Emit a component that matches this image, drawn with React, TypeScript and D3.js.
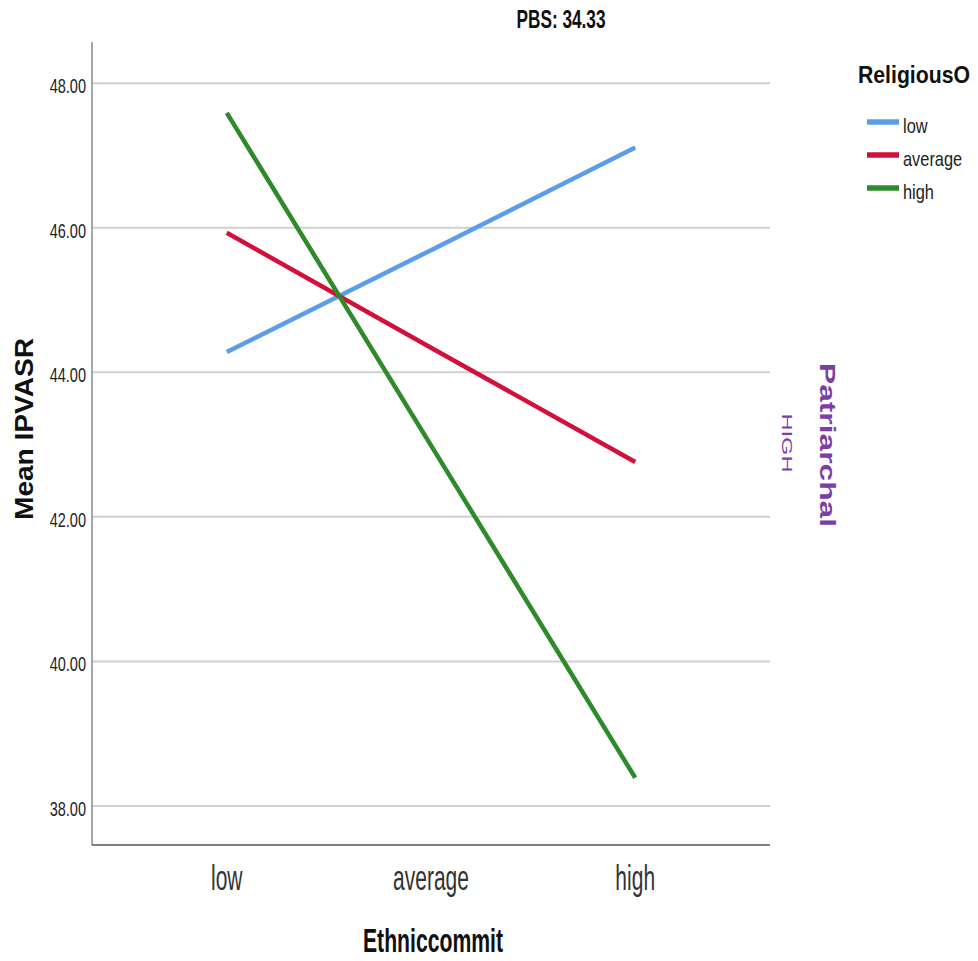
import * as d3 from "d3";
import { useEffect, useRef } from "react";

// chart values
const categories = ["low", "average", "high"];
const seriesNames = ["low", "average", "high"];
const lowValues = [44.28, 45.69, 47.11];
const averageValues = [45.93, 44.34, 42.76];
const highValues = [47.59, 42.99, 38.39];
const yTicks = [38, 40, 42, 44, 46, 48];
const colors = ["#5b9de6", "#d31039", "#2f8a2c"];

const sans = "'Liberation Sans', Arial, sans-serif";

// squeeze or stretch text to match the reference's condensed look
function fit(sel: any, k: number) {
  sel.each(function (this: SVGTextElement) {
    this.setAttribute("textLength", String(this.getComputedTextLength() * k));
    this.setAttribute("lengthAdjust", "spacingAndGlyphs");
  });
}

function App() {
  const ref = useRef<SVGSVGElement>(null);

  useEffect(() => {
    const svg = d3.select(ref.current);
    svg.selectAll("*").remove();

    const left = 92, right = 770, top = 42, bottom = 845;

    const x = d3.scalePoint<string>()
      .domain(categories)
      .range([left, right])
      .padding(0.66);

    const y = d3.scaleLinear()
      .domain([37.46, 48.57])
      .range([bottom, top]);

    // gridlines
    svg.append("g")
      .selectAll("line")
      .data(yTicks)
      .enter()
      .append("line")
        .attr("x1", left)
        .attr("x2", right)
        .attr("y1", d => y(d))
        .attr("y2", d => y(d))
        .attr("stroke", "#d0d0d0")
        .attr("stroke-width", 2);

    // y tick labels
    const yLabels = svg.append("g")
      .selectAll("text")
      .data(yTicks)
      .enter()
      .append("text")
        .attr("x", left - 6)
        .attr("y", d => y(d) + 10)
        .attr("text-anchor", "end")
        .style("font-family", sans)
        .style("font-size", "21px")
        .attr("fill", "#222")
        .text(d => d.toFixed(2));
    fit(yLabels, 0.69);

    // axis lines
    svg.append("line")
      .attr("x1", left).attr("x2", left)
      .attr("y1", top).attr("y2", bottom)
      .attr("stroke", "#888").attr("stroke-width", 1.5);
    svg.append("line")
      .attr("x1", left).attr("x2", right)
      .attr("y1", bottom).attr("y2", bottom)
      .attr("stroke", "#555").attr("stroke-width", 1.5);

    // x tick labels
    const xLabels = svg.append("g")
      .selectAll("text")
      .data(categories)
      .enter()
      .append("text")
        .attr("x", d => x(d) as number)
        .attr("y", 890)
        .attr("text-anchor", "middle")
        .style("font-family", sans)
        .style("font-size", "35px")
        .attr("fill", "#333")
        .text(d => d);
    fit(xLabels, 0.6);

    // series lines
    const series = [lowValues, averageValues, highValues];
    const line = d3.line<number>()
      .x((d, i) => x(categories[i]) as number)
      .y(d => y(d));

    series.forEach((vals, i) => {
      svg.append("path")
        .attr("d", line(vals))
        .attr("fill", "none")
        .attr("stroke", colors[i])
        .attr("stroke-width", 4.5);
    });

    // titles
    svg.append("text")
      .attr("x", 561).attr("y", 28)
      .attr("text-anchor", "middle")
      .attr("textLength", 89)
      .attr("lengthAdjust", "spacingAndGlyphs")
      .style("font-family", sans)
      .style("font-size", "26px")
      .style("font-weight", "bold")
      .attr("fill", "#111")
      .text("PBS: 34.33");

    svg.append("text")
      .attr("transform", "translate(33,429)rotate(-90)")
      .attr("text-anchor", "middle")
      .attr("textLength", 182)
      .attr("lengthAdjust", "spacingAndGlyphs")
      .style("font-family", sans)
      .style("font-size", "25px")
      .style("font-weight", "bold")
      .attr("fill", "#111")
      .text("Mean IPVASR");

    svg.append("text")
      .attr("x", 433).attr("y", 952)
      .attr("text-anchor", "middle")
      .attr("textLength", 140)
      .attr("lengthAdjust", "spacingAndGlyphs")
      .style("font-family", sans)
      .style("font-size", "33px")
      .style("font-weight", "bold")
      .attr("fill", "#111")
      .text("Ethniccommit");

    // right side panel labels
    svg.append("text")
      .attr("transform", "translate(782,443)rotate(90)")
      .attr("text-anchor", "middle")
      .attr("textLength", 59)
      .attr("lengthAdjust", "spacingAndGlyphs")
      .style("font-family", sans)
      .style("font-size", "15px")
      .attr("fill", "#7a3ea6")
      .text("HIGH");

    svg.append("text")
      .attr("transform", "translate(820,445)rotate(90)")
      .attr("text-anchor", "middle")
      .attr("textLength", 164)
      .attr("lengthAdjust", "spacingAndGlyphs")
      .style("font-family", sans)
      .style("font-size", "22px")
      .style("font-weight", "bold")
      .attr("fill", "#7a3ea6")
      .text("Patriarchal");

    // legend
    svg.append("text")
      .attr("x", 858).attr("y", 83)
      .attr("textLength", 112)
      .attr("lengthAdjust", "spacingAndGlyphs")
      .style("font-family", sans)
      .style("font-size", "23px")
      .style("font-weight", "bold")
      .attr("fill", "#111")
      .text("ReligiousO");

    const legend = svg.append("g")
      .selectAll("g")
      .data(seriesNames)
      .enter()
      .append("g")
        .attr("transform", (d, i) => `translate(867,${122 + i * 33})`);
    legend.append("line")
      .attr("x1", 0).attr("x2", 32)
      .attr("stroke", (d, i) => colors[i])
      .attr("stroke-width", 5.5);
    const legendText = legend.append("text")
      .attr("x", 36)
      .attr("y", 11)
      .style("font-family", sans)
      .style("font-size", "21px")
      .attr("fill", "#222")
      .text(d => d);
    fit(legendText, 0.78);
  });

  return (
    <svg ref={ref} width={978} height={961}
      style={{ position: "absolute", left: 0, top: 0, background: "#fff" }} />
  );
}

export default App;
